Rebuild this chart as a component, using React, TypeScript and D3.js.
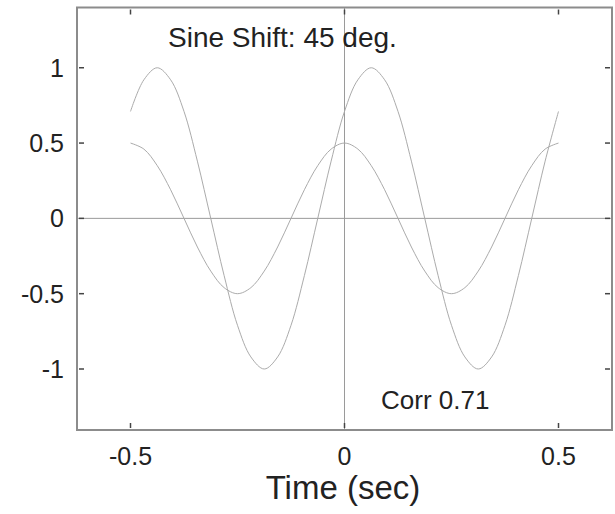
import React from "react";
import * as d3 from "d3";

const times = d3.range(33).map((k) => -0.5 + k / 32);
const shiftedSine = [0.71, 0.92, 1.0, 0.92, 0.71, 0.38, 0.0, -0.38, -0.71, -0.92, -1.0, -0.92, -0.71, -0.38, 0.0, 0.38, 0.71, 0.92, 1.0, 0.92, 0.71, 0.38, 0.0, -0.38, -0.71, -0.92, -1.0, -0.92, -0.71, -0.38, 0.0, 0.38, 0.71];
const refSine = [0.5, 0.46, 0.35, 0.19, 0.0, -0.19, -0.35, -0.46, -0.5, -0.46, -0.35, -0.19, 0.0, 0.19, 0.35, 0.46, 0.5, 0.46, 0.35, 0.19, 0.0, -0.19, -0.35, -0.46, -0.5, -0.46, -0.35, -0.19, 0.0, 0.19, 0.35, 0.46, 0.5];
const xTicks = [-0.5, 0, 0.5];
const yTicks = [-1, -0.5, 0, 0.5, 1];
const titleText = "Sine Shift: 45 deg.";
const corrText = "Corr 0.71";
const xLabel = "Time (sec)";

export default function App() {
  const W = 615, H = 514;
  const left = 77, right = 612, top = 7.5, bottom = 430;
  const x = d3.scaleLinear().domain([-0.625, 0.625]).range([left, right]);
  const y = d3.scaleLinear().domain([-1.405, 1.4]).range([bottom, top]);
  const line = d3
    .line<number>()
    .x((_, i) => x(times[i]))
    .y((d) => y(d))
    .curve(d3.curveCatmullRom);
  const font = "Liberation Sans, Arial, Helvetica, sans-serif";
  const tl = 5;
  return (
    <svg width={W} height={H} style={{ position: "absolute", left: 0, top: 0, background: "#fff" }}>
      <rect x={0} y={0} width={W} height={H} fill="#fff" />
      {/* zero lines */}
      <line x1={left} x2={right} y1={y(0)} y2={y(0)} stroke="#9a9a9a" strokeWidth={1} />
      <line x1={x(0)} x2={x(0)} y1={top} y2={bottom} stroke="#9a9a9a" strokeWidth={1} />
      {/* curves */}
      <path d={line(shiftedSine) || ""} fill="none" stroke="#ababab" strokeWidth={1} />
      <path d={line(refSine) || ""} fill="none" stroke="#ababab" strokeWidth={1} />
      {/* frame */}
      <rect x={left} y={top} width={right - left} height={bottom - top} fill="none" stroke="#8c8c8c" strokeWidth={2} />
      {/* ticks */}
      {xTicks.map((t) => (
        <g key={"xt" + t}>
          <line x1={x(t)} x2={x(t)} y1={bottom - 2} y2={bottom - 2 - tl} stroke="#444" strokeWidth={1.5} />
          <line x1={x(t)} x2={x(t)} y1={top + 2} y2={top + 2 + tl} stroke="#444" strokeWidth={1.5} />
          <text x={x(t)} y={465} textAnchor="middle" fontFamily={font} fontSize={25} fill="#222">
            {t === 0 ? "0" : String(t)}
          </text>
        </g>
      ))}
      {yTicks.map((t) => (
        <g key={"yt" + t}>
          <line x1={left + 2} x2={left + 2 + tl} y1={y(t)} y2={y(t)} stroke="#444" strokeWidth={1.5} />
          <line x1={right - 2} x2={right - 2 - tl} y1={y(t)} y2={y(t)} stroke="#444" strokeWidth={1.5} />
          <text x={64} y={y(t) + 9} textAnchor="end" fontFamily={font} fontSize={25} fill="#222">
            {t === 0 ? "0" : String(t)}
          </text>
        </g>
      ))}
      <text x={168} y={47} fontFamily={font} fontSize={28} fill="#222">{titleText}</text>
      <text x={381} y={409} fontFamily={font} fontSize={26} fill="#222">{corrText}</text>
      <text x={343} y={499} textAnchor="middle" fontFamily={font} fontSize={33} fill="#222">{xLabel}</text>
    </svg>
  );
}
